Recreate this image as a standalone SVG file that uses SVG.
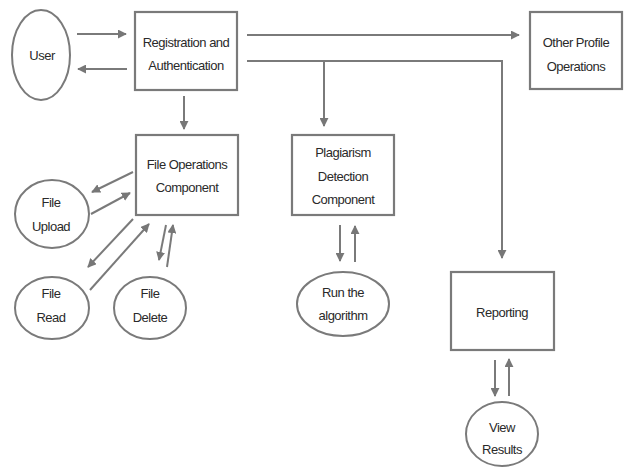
<svg xmlns="http://www.w3.org/2000/svg" width="631" height="468" viewBox="0 0 631 468">
<defs>
<marker id="ah" viewBox="0 0 10 10" refX="9" refY="5" markerWidth="4.5" markerHeight="4.5" orient="auto" markerUnits="strokeWidth">
<path d="M0,0 L10,5 L0,10 z" fill="#777"/>
</marker>
<style>
.box{fill:#fff;stroke:#7a7a7a;stroke-width:2.2}
.ell{fill:#fff;stroke:#7a7a7a;stroke-width:2}
.t{font-family:"Liberation Sans",Arial,sans-serif;font-size:13px;fill:#2a2a2a;text-anchor:middle;letter-spacing:-0.5px}
.c{fill:none;stroke:#7a7a7a;stroke-width:2}
.a{marker-end:url(#ah)}
</style>
</defs>
<rect width="631" height="468" fill="#fff"/>
<g id="connectors">
<line class="c a" x1="77" y1="34" x2="126" y2="34"/>
<line class="c a" x1="127" y1="69" x2="78" y2="69"/>
<line class="c a" x1="247" y1="35" x2="519" y2="35"/>
<polyline class="c a" points="247,61 502,61 502,258"/>
<line class="c a" x1="324" y1="61" x2="324" y2="126"/>
<line class="c a" x1="184" y1="96" x2="184" y2="129"/>
<line class="c a" x1="133" y1="172" x2="92" y2="192"/>
<line class="c a" x1="91" y1="214" x2="130" y2="193"/>
<line class="c a" x1="133" y1="219" x2="88" y2="267"/>
<line class="c a" x1="90" y1="290" x2="149" y2="224"/>
<line class="c a" x1="166" y1="225" x2="159" y2="260"/>
<line class="c a" x1="167" y1="267" x2="173" y2="225"/>
<line class="c a" x1="340" y1="225" x2="340" y2="261"/>
<line class="c a" x1="355" y1="262" x2="355" y2="226"/>
<line class="c a" x1="495" y1="360" x2="495" y2="396"/>
<line class="c a" x1="509" y1="396" x2="509" y2="359"/>
</g>
<g id="user">
<ellipse class="ell" cx="41" cy="55" rx="29" ry="45"/>
<text class="t" x="42" y="60">User</text>
</g>
<g id="registration">
<rect class="box" x="135" y="12" width="102" height="78"/>
<text class="t" x="186" y="47">Registration and</text>
<text class="t" x="186" y="70">Authentication</text>
</g>
<g id="other-profile">
<rect class="box" x="530" y="12" width="92" height="77"/>
<text class="t" x="576" y="47">Other Profile</text>
<text class="t" x="576" y="71">Operations</text>
</g>
<g id="file-operations">
<rect class="box" x="136" y="135" width="102" height="80"/>
<text class="t" x="187" y="169">File Operations</text>
<text class="t" x="187" y="192">Component</text>
</g>
<g id="plagiarism">
<rect class="box" x="292" y="135" width="102" height="80"/>
<text class="t" x="343" y="157">Plagiarism</text>
<text class="t" x="343" y="181">Detection</text>
<text class="t" x="343" y="204">Component</text>
</g>
<g id="reporting">
<rect class="box" x="451" y="272" width="103" height="78"/>
<text class="t" x="502" y="317">Reporting</text>
</g>
<g id="file-upload">
<ellipse class="ell" cx="52" cy="214" rx="37" ry="34"/>
<text class="t" x="51" y="207">File</text>
<text class="t" x="51" y="231">Upload</text>
</g>
<g id="file-read">
<ellipse class="ell" cx="52" cy="308" rx="37" ry="31"/>
<text class="t" x="51" y="298">File</text>
<text class="t" x="51" y="322">Read</text>
</g>
<g id="file-delete">
<ellipse class="ell" cx="150" cy="308" rx="36" ry="31"/>
<text class="t" x="150" y="298">File</text>
<text class="t" x="150" y="322">Delete</text>
</g>
<g id="run-algorithm">
<ellipse class="ell" cx="343" cy="304" rx="46" ry="32"/>
<text class="t" x="343" y="297">Run the</text>
<text class="t" x="343" y="320">algorithm</text>
</g>
<g id="view-results">
<ellipse class="ell" cx="502" cy="434" rx="36" ry="32"/>
<text class="t" x="502" y="432">View</text>
<text class="t" x="502" y="454">Results</text>
</g>
</svg>
